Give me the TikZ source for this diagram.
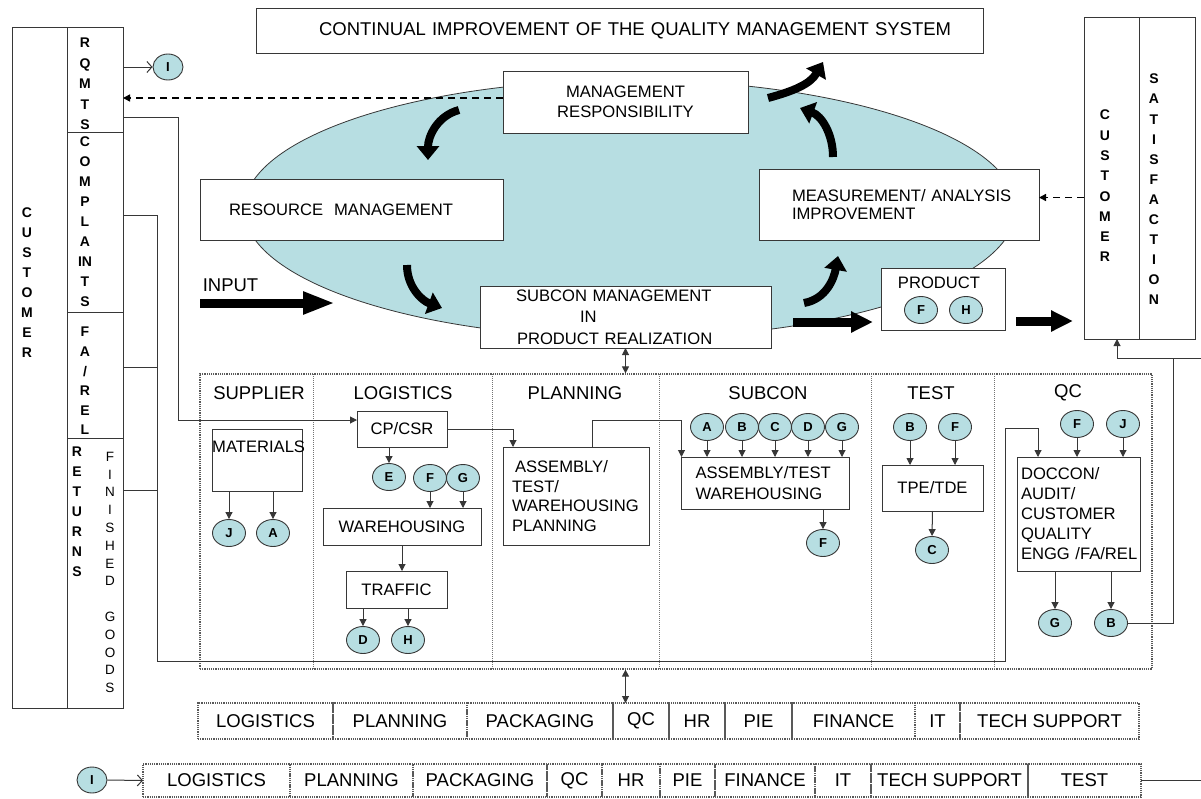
\documentclass[tikz,border=0pt]{standalone}
\usepackage{fontspec}
\setmainfont{Liberation Sans}
\usetikzlibrary{arrows.meta,positioning,shapes.geometric}
\definecolor{qmsteal}{RGB}{183,222,226}
\definecolor{qmsline}{RGB}{55,55,55}
\newcommand\headfnt{\fontsize{18.5}{22}\selectfont}
\newcommand\boxfnt{\fontsize{16.6}{20}\selectfont}
\newcommand\colfnt{\bfseries\fontsize{14}{20}\selectfont}
\newcommand\blobfnt{\bfseries\fontsize{13}{15}\selectfont}
\begin{document}
\begin{tikzpicture}[x=1pt,y=-1pt,
    qbox/.style={draw=qmsline,line width=1pt,fill=white,inner sep=0pt,outer sep=0pt,font=\boxfnt},
    stack/.style={align=center,inner sep=0pt,font=\colfnt},
    blob/.style={ellipse,draw=qmsline,line width=0.9pt,fill=qmsteal,minimum width=33pt,minimum height=27pt,inner sep=0pt,font=\blobfnt},
    head/.style={inner sep=0pt,font=\headfnt},
    cell/.style={draw=black!65,densely dotted,line width=1.2pt,inner sep=0pt,outer sep=0pt,font=\headfnt},
    rowA/.style={cell,minimum height=36pt},
    rowB/.style={cell,minimum height=33pt},
    lane/.style={draw=black!55,densely dotted,line width=1pt},
    link/.style={draw=qmsline,line width=1pt},
    arr/.style={-{Triangle[length=7pt,width=7pt]}},
    barb/.style={-{Straight Barb[length=5pt,width=11pt]}},
    fat/.style={line width=9pt,-{Triangle[length=22pt,width=20pt]}},
    curv/.style={line width=8pt,-{Triangle[length=14pt,width=22pt]}}]
  \useasboundingbox (0,0) rectangle (1201,798);

  \node[ellipse,draw=qmsline,line width=0.8pt,fill=qmsteal,minimum width=772pt,minimum height=258pt] (oval) at (630,209) {};

  \node[qbox,font=\headfnt,text width=601pt,align=left,minimum width=727pt,minimum height=45pt] (title) at (619.5,30.5) {\mbox{CONTINUAL IMPROVEMENT OF THE QUALITY MANAGEMENT SYSTEM}};
  \node[qbox,align=center,minimum width=245pt,minimum height=62pt] (mgmt) at (625.5,102) {MANAGEMENT\\RESPONSIBILITY};
  \node[qbox,text width=245pt,align=left,minimum width=303pt,minimum height=61pt] (res) at (351.5,209.5) {RESOURCE\ \ MANAGEMENT};
  \node[qbox,text width=214pt,align=left,minimum width=280pt,minimum height=71pt,font=\fontsize{16.6}{18}\selectfont] (meas) at (899,204.5) {\mbox{MEASUREMENT/ ANALYSIS}\\IMPROVEMENT};
  \node[qbox,text width=267pt,align=left,minimum width=291pt,minimum height=62pt,font=\fontsize{16.6}{21.5}\selectfont] (subconm) at (625.5,317) {\hspace*{24pt}SUBCON MANAGEMENT\\\hspace*{88pt}IN\\\hspace*{25pt}PRODUCT REALIZATION};
  \node[qbox,minimum width=124pt,minimum height=62pt] (prod) at (943,299) {};
  \node[font=\boxfnt,inner sep=0pt] (prodlbl) at (939,283) {PRODUCT};
  \node[blob] (pf) at (921,310) {F};
  \node[blob] (ph) at (966,310) {H};
  \node[head] (inlbl) at (230.5,285) {INPUT};

  \node[qbox,minimum width=55pt,minimum height=322pt] (cs1) at (1111.5,178) {};
  \node[qbox,minimum width=56pt,minimum height=322pt] (cs2) at (1167,178) {};
  \node[stack,font=\bfseries\fontsize{14}{20.3}\selectfont] (cscust) at (1105,186) {C\\U\\S\\T\\O\\M\\E\\R};
  \node[stack,font=\bfseries\fontsize{14}{20.1}\selectfont] (cssat) at (1154,189.5) {S\\A\\T\\I\\S\\F\\A\\C\\T\\I\\O\\N};

  \node[qbox,minimum width=55pt,minimum height=681pt] (cust) at (39.5,367.5) {};
  \node[qbox,minimum width=56pt,minimum height=105pt] (rq) at (95,79.5) {};
  \node[qbox,minimum width=56pt,minimum height=180pt] (cp) at (95,222) {};
  \node[qbox,minimum width=56pt,minimum height=126pt] (fa) at (95,375) {};
  \node[qbox,minimum width=56pt,minimum height=270pt] (ret) at (95,573) {};
  \node[stack] (custlbl) at (27,283) {C\\U\\S\\T\\O\\M\\E\\R};
  \node[stack,font=\bfseries\fontsize{14}{20.5}\selectfont] (rqlbl) at (85,84) {R\\Q\\M\\T\\S};
  \node[stack] (cplbl) at (85,222) {C\\O\\M\\P\\L\\A\\IN\\T\\S};
  \node[stack,font=\bfseries\fontsize{14}{19.6}\selectfont] (falbl) at (85,381) {F\\A\\/\\R\\E\\L};
  \node[stack] (retlbl) at (77,512) {R\\E\\T\\U\\R\\N\\S};
  \node[stack,font=\fontsize{13.5}{17.8}\selectfont] (fglbl) at (110,572.5) {F\\I\\N\\I\\S\\H\\E\\D\\[17.8pt]G\\O\\O\\D\\S};
  \node[blob,minimum width=30pt,minimum height=26pt] (itop) at (168,67) {I};
  \node[blob,minimum width=30pt,minimum height=26pt] (ibot) at (92,780) {I};

  \node[draw=black!65,densely dotted,line width=1.2pt,inner sep=0pt,minimum width=952pt,minimum height=295pt] (frame) at (676,521.5) {};
  \draw[lane] (313,374) -- (313,669);
  \draw[lane] (492,374) -- (492,669);
  \draw[lane] (659,374) -- (659,669);
  \draw[lane] (871,374) -- (871,669);
  \draw[lane] (994,374) -- (994,669);
  \node[head] (hsup) at (259,393) {SUPPLIER};
  \node[head] (hlog) at (403,393) {LOGISTICS};
  \node[head] (hplan) at (575,393) {PLANNING};
  \node[head] (hsub) at (768,393) {SUBCON};
  \node[head] (htest) at (931,393) {TEST};
  \node[head] (hqc) at (1068,393) {QC};

  \node[qbox,minimum width=90pt,minimum height=62pt] (mat) at (257,460) {};
  \node[font=\boxfnt,anchor=west,inner sep=0pt] (matlbl) at (212,447) {MATERIALS};
  \node[blob] (sj) at (229,533) {J};
  \node[blob] (sa) at (273,533) {A};

  \node[qbox,minimum width=90pt,minimum height=36pt] (cpcsr) at (402,429) {CP/CSR};
  \node[blob] (le) at (389,477) {E};
  \node[blob] (lf) at (430,478) {F};
  \node[blob] (lg) at (463,478) {G};
  \node[qbox,minimum width=158pt,minimum height=37pt] (wh) at (402,526.5) {WAREHOUSING};
  \node[qbox,minimum width=101pt,minimum height=37pt] (tr) at (396.5,589.5) {TRAFFIC};
  \node[blob] (ld) at (363,640) {D};
  \node[blob] (lh) at (408,640) {H};

  \node[qbox,text width=128pt,align=left,minimum width=146pt,minimum height=98pt,font=\fontsize{16.6}{19.7}\selectfont] (plan) at (576,496) {\hspace*{3pt}ASSEMBLY/\\TEST/\\WAREHOUSING\\PLANNING};

  \node[qbox,text width=140pt,align=left,minimum width=168pt,minimum height=52pt,font=\fontsize{16.6}{21}\selectfont] (sub) at (765.5,483) {ASSEMBLY/TEST\\WAREHOUSING};
  \node[blob] (ca) at (707,427) {A};
  \node[blob] (cb) at (742,427) {B};
  \node[blob] (cc) at (775,427) {C};
  \node[blob] (cd) at (808,427) {D};
  \node[blob] (cg) at (842,427) {G};
  \node[blob] (cf) at (823,543) {F};

  \node[blob] (tb) at (910,427) {B};
  \node[blob] (tf) at (955,427) {F};
  \node[qbox,minimum width=101pt,minimum height=46pt] (tpe) at (932.5,488) {TPE/TDE};
  \node[blob] (tc) at (932,550) {C};

  \node[blob] (qf) at (1077,424) {F};
  \node[blob] (qj) at (1123,424) {J};
  \node[qbox,text width=115pt,align=left,minimum width=123pt,minimum height=114pt] (qc) at (1078.5,514) {DOCCON/\\AUDIT/\\CUSTOMER\\QUALITY\\ENGG~/FA/REL};
  \node[blob] (qg) at (1055,623) {G};
  \node[blob] (qb) at (1111,623) {B};

  \node[rowA,minimum width=135pt,anchor=west] (r1log) at (198,721) {LOGISTICS};
  \node[rowA,minimum width=134pt,right=0pt of r1log] (r1plan) {PLANNING};
  \node[rowA,minimum width=146pt,right=0pt of r1plan] (r1pack) {PACKAGING};
  \node[rowA,minimum width=56pt,right=0pt of r1pack] (r1qc) {QC};
  \node[rowA,minimum width=56pt,right=0pt of r1qc] (r1hr) {HR};
  \node[rowA,minimum width=67pt,right=0pt of r1hr] (r1pie) {PIE};
  \node[rowA,minimum width=123pt,right=0pt of r1pie] (r1fin) {FINANCE};
  \node[rowA,minimum width=45pt,right=0pt of r1fin] (r1it) {IT};
  \node[rowA,minimum width=179pt,right=0pt of r1it] (r1tech) {TECH SUPPORT};

  \node[rowB,minimum width=147pt,anchor=west] (r2log) at (143,780.5) {LOGISTICS};
  \node[rowB,minimum width=123pt,right=0pt of r2log] (r2plan) {PLANNING};
  \node[rowB,minimum width=134pt,right=0pt of r2plan] (r2pack) {PACKAGING};
  \node[rowB,minimum width=55pt,right=0pt of r2pack] (r2qc) {QC};
  \node[rowB,minimum width=58pt,right=0pt of r2qc] (r2hr) {HR};
  \node[rowB,minimum width=55pt,right=0pt of r2hr] (r2pie) {PIE};
  \node[rowB,minimum width=100pt,right=0pt of r2pie] (r2fin) {FINANCE};
  \node[rowB,minimum width=56pt,right=0pt of r2fin] (r2it) {IT};
  \node[rowB,minimum width=157pt,right=0pt of r2it] (r2tech) {TECH SUPPORT};
  \node[rowB,minimum width=113pt,right=0pt of r2tech] (r2test) {TEST};
  \coordinate (rim) at (1201,358);

  \begin{scope}[link,arr]
    \draw[barb] (itop.west -| rq.east) to (itop.west);
    \draw[barb] (ibot.east) to (r2log.west);
    \draw[black,line width=1.5pt,dashed,dash pattern=on 7pt off 5pt] ([yshift=4pt]mgmt.west) to ([yshift=4pt]mgmt.west -| rq.east);
    \draw[black,line width=1.5pt,dashed,dash pattern=on 7pt off 5pt] ([yshift=7pt]meas.east) ++(45,0) to ([yshift=7pt]meas.east);
    \draw ([yshift=15pt]rq.south east) -- ++(55,0) |- ([yshift=9pt]cpcsr.west);
    \draw ([yshift=7pt]cp.east) -- ++(34,0) -- ++(0,446) -- ++(848,0) -- ++(0,-233) -| ([xshift=21pt]qc.north west);
    \draw[-] ([yshift=8pt]fa.east) to ++(34,0);
    \draw[-] (ret.north east) ++(0,52) to ++(34,0);
    \draw (cpcsr.east) -| ([xshift=10pt]plan.north west);
    \draw ([xshift=89pt]plan.north west) -- ++(0,-27) -| (sub.north west);
    \draw (sj.north |- mat.south) to (sj.north);
    \draw (sa.north |- mat.south) to (sa.north);
    \draw (le.north |- cpcsr.south) to (le.north);
    \draw (lf.south) to (lf.south |- wh.north);
    \draw (lg.south) to (lg.south |- wh.north);
    \draw (wh.south) to (wh.south |- tr.north);
    \draw (ld.north |- tr.south) to (ld.north);
    \draw (lh.north |- tr.south) to (lh.north);
    \draw (ca.south) to (ca.south |- sub.north);
    \draw (cb.south) to (cb.south |- sub.north);
    \draw (cc.south) to (cc.south |- sub.north);
    \draw (cd.south) to (cd.south |- sub.north);
    \draw (cg.south) to (cg.south |- sub.north);
    \draw (cf.north |- sub.south) to (cf.north);
    \draw (tb.south) to (tb.south |- tpe.north);
    \draw (tf.south) to (tf.south |- tpe.north);
    \draw (tpe.south) to (tc.north);
    \draw (qf.south) to (qf.south |- qc.north);
    \draw (qj.south) to (qj.south |- qc.north);
    \draw (qg.north |- qc.south) to (qg.north);
    \draw (qb.north |- qc.south) to (qb.north);
    \draw[-] (qb.east) -| ([xshift=-28pt]rim);
    \draw (rim) -| ([xshift=33pt]cs1.south west);
    \draw[-] (r2test.east) to (r2test.east -| rim);
    \draw[{Triangle[length=7pt,width=7pt]}-{Triangle[length=7pt,width=7pt]}] (subconm.south) to (subconm.south |- frame.north);
    \draw[{Triangle[length=7pt,width=7pt]}-{Triangle[length=7pt,width=7pt]}] (subconm.south |- frame.south) to (subconm.south |- r1log.north);
  \end{scope}

  \coordinate (in0) at (200,303);
  \coordinate (in1) at (335,303);
  \draw[fat,-{Triangle[length=32pt,width=21pt]}] (in0) -- (in1);
  \draw[fat] ([xshift=22pt,yshift=-5pt]subconm.east) -- ([xshift=-8pt,yshift=-23pt]prod.west);
  \draw[fat] ([xshift=11pt,yshift=-22pt]prod.east) -- ([xshift=-11pt,yshift=-143pt]cs1.west);

  \draw[curv] (459,110) to[out=195,in=90] (428,160);
  \draw[curv] (407,265) to[out=270,in=160] (442,308);
  \draw[curv] (804,303) to[out=10,in=260] (838,256);
  \draw[curv] (833,157) to[out=90,in=340] (800,108);
  \draw[curv] (768,98) to[out=15,in=240] (823,62);
\end{tikzpicture}
\end{document}
